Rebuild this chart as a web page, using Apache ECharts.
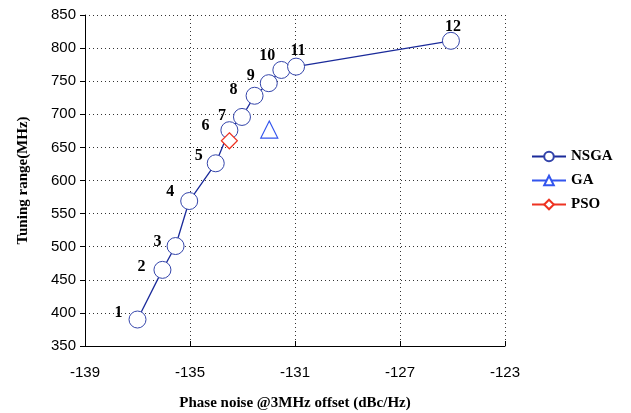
<!DOCTYPE html>
<html><head><meta charset="utf-8">
<script src="https://cdn.jsdelivr.net/npm/echarts@6/dist/echarts.min.js"></script>
<style>html,body{margin:0;padding:0;background:#fff}#c{width:631px;height:413px}</style>
</head><body><div id="c"></div>
<script>
// Data
const nsgaX = [-137.0, -136.05, -135.55, -135.03, -134.02, -133.5, -133.02, -132.54, -132.0, -131.52, -130.96, -125.06];
const nsgaY = [390, 465, 501, 569, 626, 676, 696, 728, 747, 767, 772, 811];
const nsgaLabels = ['1','2','3','4','5','6','7','8','9','10','11','12'];
const gaX = [-131.98];
const gaY = [677];
const psoX = [-133.5];
const psoY = [660];
const xTicks = [-139, -135, -131, -127, -123];
const yTicks = [350, 400, 450, 500, 550, 600, 650, 700, 750, 800, 850];

// label placement (pixel offsets from point centre)
const labelOffsets = [[-19,-7],[-21,-3],[-18,-4],[-19,-9],[-17,-7],[-24,-4],[-20,-1],[-21,-6],[-18,-7],[-14,-14],[2,-16],[2,-14]];

const chart = echarts.init(document.getElementById('c'));
const serif = '"Liberation Serif","Times New Roman",serif';
const sans = '"Liberation Sans",Arial,sans-serif';

const nsgaData = nsgaX.map((x, i) => ({
  value: [x, nsgaY[i]],
  label: { show: true, formatter: nsgaLabels[i], position: 'inside', offset: labelOffsets[i],
           align: 'center', verticalAlign: 'middle', color: '#000', fontFamily: serif, fontWeight: 'bold', fontSize: 16 }
}));

chart.setOption({
  animation: false,
  grid: { left: 85, right: 126, top: 15, bottom: 67, containLabel: false, outerBoundsMode: 'none' },
  xAxis: {
    type: 'value', min: xTicks[0], max: xTicks[xTicks.length-1], interval: 4,
    name: 'Phase noise @3MHz offset (dBc/Hz)', nameLocation: 'middle', nameGap: 50,
    nameTextStyle: { fontFamily: serif, fontWeight: 'bold', fontSize: 15, color: '#000' },
    axisLine: { lineStyle: { color: '#000', width: 1 } },
    axisTick: { inside: true, length: 5, lineStyle: { color: '#000' } },
    axisLabel: { fontFamily: sans, fontSize: 15, color: '#000', margin: 19 },
    splitLine: { show: true, lineStyle: { type: [1, 3], color: '#333', width: 1 } }
  },
  yAxis: {
    type: 'value', min: yTicks[0], max: yTicks[yTicks.length-1], interval: 50,
    name: 'Tuning range(MHz)', nameLocation: 'middle', nameGap: 54,
    nameTextStyle: { fontFamily: serif, fontWeight: 'bold', fontSize: 15, color: '#000' },
    axisLine: { show: true, lineStyle: { color: '#000', width: 1 } },
    axisTick: { show: true, inside: false, length: 5, lineStyle: { color: '#000' } },
    axisLabel: { fontFamily: sans, fontSize: 15, color: '#000', margin: 9 },
    splitLine: { show: true, lineStyle: { type: [1, 3], color: '#333', width: 1 } }
  },
  legend: {
    orient: 'vertical', left: 526, top: 144, itemWidth: 34, itemHeight: 12, itemGap: 9,
    textStyle: { fontFamily: serif, fontWeight: 'bold', fontSize: 15, color: '#000' },
    data: ['NSGA', 'GA', 'PSO']
  },
  series: [
    { name: 'NSGA', type: 'line', data: nsgaData, symbol: 'circle', symbolSize: 17,
      lineStyle: { color: '#1a2a9a', width: 1.3 },
      itemStyle: { color: '#fff', borderColor: '#3344aa', borderWidth: 1 }, z: 3 },
    { name: 'GA', type: 'line', data: gaX.map((x,i)=>[x, gaY[i]]), symbol: 'triangle', symbolSize: 17,
      lineStyle: { color: '#3355ee', width: 1.3 },
      itemStyle: { color: '#fff', borderColor: '#3355ee', borderWidth: 1.2 } },
    { name: 'PSO', type: 'line', data: psoX.map((x,i)=>[x, psoY[i]]), symbol: 'diamond', symbolSize: 16,
      lineStyle: { color: '#ee3322', width: 1.3 },
      itemStyle: { color: '#fff', borderColor: '#ee3322', borderWidth: 1.2 }, z: 4 }
  ]
});
</script></body></html>
